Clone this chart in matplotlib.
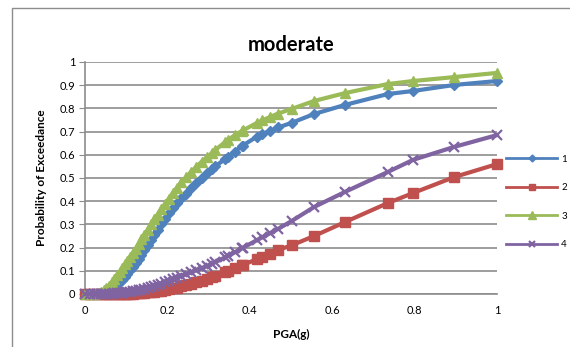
import matplotlib
matplotlib.use("Agg")
import matplotlib.pyplot as plt
from matplotlib.patches import Rectangle

pga = [0.0, 0.012, 0.021, 0.03, 0.038, 0.045, 0.052, 0.058, 0.065, 0.071, 0.078, 0.084,
       0.09, 0.097, 0.103, 0.11, 0.116, 0.123, 0.13, 0.137, 0.144, 0.152, 0.16, 0.168,
       0.176, 0.185, 0.194, 0.203, 0.213, 0.223, 0.234, 0.246, 0.258, 0.27, 0.283, 0.296,
       0.308, 0.316, 0.34, 0.347, 0.364, 0.381, 0.383, 0.417, 0.43, 0.449, 0.469, 0.502,
       0.556, 0.631, 0.735, 0.796, 0.896, 1.0]

s1 = [0, 0, 0.001, 0.002, 0.004, 0.007, 0.011, 0.016, 0.024, 0.032, 0.042, 0.052,
      0.062, 0.074, 0.087, 0.102, 0.116, 0.134, 0.152, 0.17, 0.189, 0.21, 0.232, 0.254,
      0.277, 0.303, 0.325, 0.347, 0.37, 0.392, 0.412, 0.432, 0.455, 0.478, 0.502, 0.523,
      0.54, 0.55, 0.582, 0.591, 0.614, 0.638, 0.64, 0.678, 0.688, 0.703, 0.718, 0.738,
      0.776, 0.815, 0.862, 0.875, 0.901, 0.918]

s2 = [0, 0, 0, 0, 0, 0, 0, 0, 0, 0, 0, 0,
      0, 0.001, 0.001, 0.002, 0.002, 0.003, 0.004, 0.005, 0.006, 0.007, 0.008, 0.01,
      0.012, 0.014, 0.017, 0.02, 0.024, 0.028, 0.033, 0.038, 0.044, 0.05, 0.057, 0.065,
      0.073, 0.078, 0.094, 0.099, 0.111, 0.124, 0.125, 0.15, 0.16, 0.174, 0.19, 0.21,
      0.25, 0.31, 0.392, 0.435, 0.504, 0.56]

s3 = [0, 0, 0.002, 0.005, 0.009, 0.016, 0.025, 0.036, 0.05, 0.063, 0.08, 0.094,
      0.11, 0.128, 0.143, 0.16, 0.177, 0.195, 0.215, 0.235, 0.255, 0.277, 0.30, 0.322,
      0.342, 0.365, 0.387, 0.41, 0.435, 0.458, 0.482, 0.505, 0.527, 0.548, 0.57, 0.59,
      0.607, 0.62, 0.655, 0.664, 0.685, 0.703, 0.705, 0.737, 0.748, 0.763, 0.778, 0.798,
      0.832, 0.866, 0.905, 0.918, 0.935, 0.953]

s4 = [0, 0, 0, 0, 0.001, 0.001, 0.001, 0.002, 0.002, 0.003, 0.004, 0.005,
      0.006, 0.007, 0.008, 0.01, 0.012, 0.014, 0.016, 0.018, 0.021, 0.025, 0.029, 0.033,
      0.038, 0.044, 0.05, 0.057, 0.063, 0.07, 0.077, 0.085, 0.093, 0.102, 0.111, 0.121,
      0.13, 0.137, 0.158, 0.164, 0.18, 0.197, 0.199, 0.232, 0.244, 0.262, 0.281, 0.315,
      0.375, 0.44, 0.526, 0.578, 0.634, 0.685]

series_labels = ["1", "2", "3", "4"]
x_ticks = [0, 0.2, 0.4, 0.6, 0.8, 1]
x_tick_labels = ["0", "0.2", "0.4", "0.6", "0.8", "1"]
y_ticks = [0, 0.1, 0.2, 0.3, 0.4, 0.5, 0.6, 0.7, 0.8, 0.9, 1]
y_tick_labels = ["0", "0.1", "0.2", "0.3", "0.4", "0.5", "0.6", "0.7", "0.8", "0.9", "1"]

plt.rcParams['font.family'] = ['Lato', 'DejaVu Sans']

W, H = 570, 347
fig = plt.figure(figsize=(W / 100, H / 100), dpi=100)
fig.patch.set_facecolor("white")

# outer chart border
fig.add_artist(Rectangle((12 / W, -0.2), 1.2, 1 - 8 / H + 0.2, transform=fig.transFigure,
                         fill=False, edgecolor="#8c8c8c", linewidth=1.0))

ax = fig.add_axes([85 / W, 1 - 294 / H, (497 - 85) / W, (294 - 62) / H])

grid_c = "#8c8c8c"
styles = [
    dict(color="#4F81BD", marker="D", ms=5),
    dict(color="#C0504D", marker="s", ms=7),
    dict(color="#9BBB59", marker="^", ms=7.5),
    dict(color="#8064A2", marker="x", ms=7, mew=1.6),
]
for y, lab, st in zip([s1, s2, s3, s4], series_labels, styles):
    ax.plot(pga, y, lw=3.0, label=lab, clip_on=False, zorder=3, **st)

ax.set_xlim(0, 1)
ax.set_ylim(0, 1)
ax.set_xticks(x_ticks)
ax.set_xticklabels(x_tick_labels)
ax.set_yticks(y_ticks)
ax.set_yticklabels(y_tick_labels)
ax.yaxis.grid(True, color=grid_c, lw=1.2)
ax.set_axisbelow(True)
for s in ["top", "right"]:
    ax.spines[s].set_visible(False)
ax.spines["left"].set_color(grid_c)
ax.spines["bottom"].set_color(grid_c)
ax.spines["left"].set_linewidth(1.2)
ax.spines["bottom"].set_linewidth(1.2)
ax.tick_params(axis="y", length=4, color=grid_c, labelsize=8, pad=3)
ax.tick_params(axis="x", length=0, labelsize=8, pad=8)

ax.set_title("moderate", fontsize=14.5, fontweight="bold", pad=8)
ax.set_xlabel("PGA(g)", fontsize=8.5, fontweight="bold", labelpad=9)
ax.set_ylabel("Probability of Exceedance", fontsize=8.5, fontweight="bold", labelpad=9)

leg_handles = []
for st, lab in zip(styles, series_labels):
    st2 = dict(st)
    st2["ms"] = st["ms"] * 0.7
    leg_handles.append(plt.Line2D([], [], lw=2.0, **st2))
fig.legend(leg_handles, series_labels, loc="upper left",
           bbox_to_anchor=(502 / W, 1 - 151 / H), frameon=False, fontsize=7,
           handlelength=5.3, labelspacing=2.0, handletextpad=0.4, borderaxespad=0)

fig.savefig("out.png", dpi=100)
